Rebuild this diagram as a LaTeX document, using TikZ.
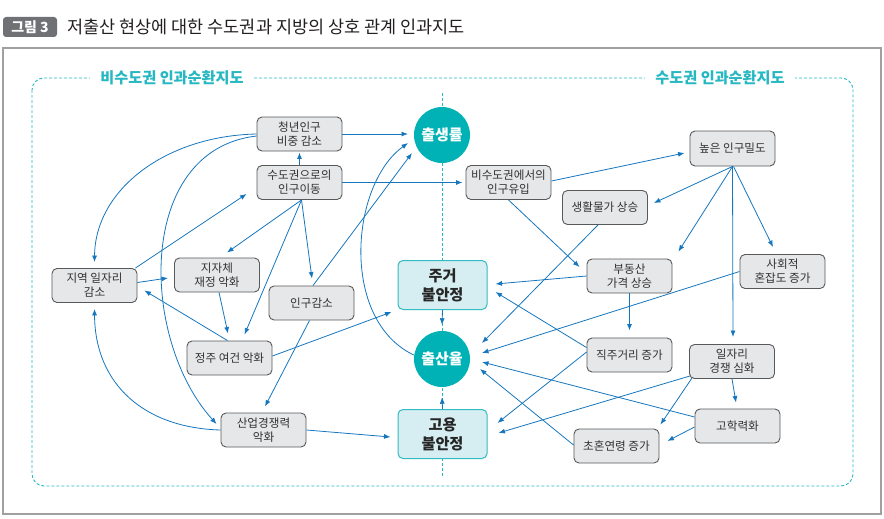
\documentclass[tikz,border=0pt]{standalone}
\usepackage{fontspec}
\setmainfont{Noto Sans CJK KR}
\usetikzlibrary{calc,arrows.meta}
\definecolor{arr}{RGB}{21,118,190}
\definecolor{tealfill}{RGB}{0,178,181}
\definecolor{teallab}{RGB}{38,184,194}
\definecolor{tealbox}{RGB}{214,238,241}
\definecolor{tealedge}{RGB}{49,187,194}
\definecolor{boxfill}{RGB}{230,231,232}
\definecolor{boxedge}{RGB}{88,89,91}
\definecolor{txt}{RGB}{50,50,50}
\definecolor{framegray}{RGB}{160,160,162}
\definecolor{taggray}{RGB}{112,113,116}
\definecolor{titletxt}{RGB}{35,31,32}
\begin{document}
\begin{tikzpicture}[x=1pt,y=-1pt,
 box/.style={draw=boxedge,fill=boxfill,line width=0.9pt,rounded corners=5pt,minimum width=85pt,minimum height=34pt,inner sep=0pt,align=center,font=\fontsize{11.6}{14}\selectfont,text=txt},
 keybox/.style={draw=tealedge,fill=tealbox,line width=1pt,rounded corners=5pt,minimum width=89pt,minimum height=49pt,inner sep=0pt,align=center,font=\fontsize{15.2}{19}\selectfont\bfseries,text=black!85},
 circ/.style={circle,fill=tealfill,minimum size=56pt,inner sep=0pt,font=\fontsize{15}{16}\selectfont\bfseries,text=white},
 link/.style={draw=arr,line width=0.8pt,-{Latex[length=6.5pt,width=5pt]}},
 tealdash/.style={draw=teallab,line width=0.9pt,dash pattern=on 3pt off 2pt},
 region/.style={fill=white,inner xsep=10pt,inner ysep=2pt,text=teallab,font=\fontsize{15.2}{17}\selectfont\bfseries}
]
\useasboundingbox (0,0) rectangle (884,519);
% outer frame
\draw[framegray,line width=1.3pt] (3,48) rectangle (881,514);
% title
\node[fill=taggray,rounded corners=3pt,text=white,minimum width=54pt,minimum height=20pt,inner sep=0pt,font=\fontsize{14}{15}\selectfont\bfseries] (tag) at (30,27) {그림 3};
\node[anchor=west,inner sep=0pt,text=titletxt,font=\fontsize{17.5}{19}\selectfont] (title) at (67,27) {저출산 현상에 대한 수도권과 지방의 상호 관계 인과지도};
% dashed region
\draw[tealdash,rounded corners=12pt] (32,78) rectangle (853,486);
\coordinate (ctop) at (442,93);
\coordinate (cbot) at (442,476);
\draw[tealdash] (ctop) -- (cbot);
\node[region] (lab1) at (172,78) {비수도권 인과순환지도};
\node[region] (lab2) at (720,78) {수도권 인과순환지도};
% nodes left
\node[box] (yp) at (299.5,134) {청년인구\\비중 감소};
\node[box] (mig) at (299.5,182.5) {수도권으로의\\인구이동};
\node[box] (job) at (94.5,285.5) {지역 일자리\\감소};
\node[box] (fin) at (217,275) {지자체\\재정 악화};
\node[box] (pop) at (311.5,303) {인구감소};
\node[box] (liv) at (229.5,358) {정주 여건 악화};
\node[box] (ind) at (263.5,430) {산업경쟁력\\악화};
% center
\node[circ] (birth) at (442,135) {출생률};
\node[keybox] (house) at (442.5,285) {주거\\불안정};
\node[circ] (fert) at (442,359) {출산율};
\node[keybox] (emp) at (442.5,434) {고용\\불안정};
% nodes right
\node[box] (inflow) at (508.5,182.5) {비수도권에서의\\인구유입};
\node[box,minimum height=35pt] (dens) at (732.5,148.5) {높은 인구밀도};
\node[box] (price) at (605,207.5) {생활물가 상승};
\node[box] (estate) at (629.5,276) {부동산\\가격 상승};
\node[box] (cong) at (782.5,271.5) {사회적\\혼잡도 증가};
\node[box] (comm) at (629.5,355) {직주거리 증가};
\node[box] (comp) at (732,361.5) {일자리\\경쟁 심화};
\node[box] (edu) at (737.5,426) {고학력화};
\node[box] (marr) at (616.5,446) {초혼연령 증가};
% connectors left
\draw[link] (yp.east) -- ($(birth.center)+(-34,-1)$);
\draw[link] (mig.east) -- ($(inflow.west)+(-3,0)$);
\draw[link] (mig.north) -- ($(yp.south)+(0,1)$);
\draw[link] (yp.west) .. controls (165,136) and (95,190) .. ($(job.north)+(0,-6)$);
\draw[link] ($(yp.west)+(0,2)$) .. controls (135,150) and (140,340) .. ($(ind.west)+(-4,-6)$);
\draw[link] ($(job.north east)+(-2,0)$) -- ($(mig.south west)+(-10,-6)$);
\draw[link] ($(job.east)+(0,-3)$) -- ($(fin.west)+(-6,3)$);
\draw[link] ($(liv.north)+(-2,0)$) -- ($(job.east)+(7,5)$);
\draw[link] ($(mig.south)+(2,0)$) -- ($(fin.north)+(10,-5)$);
\draw[link] ($(mig.south)+(2,0)$) -- ($(liv.north)+(15,-6)$);
\draw[link] ($(mig.south)+(2,0)$) -- ($(pop.north)+(0.5,-7)$);
\draw[link] ($(fin.south)+(2,0)$) -- ($(liv.north)+(-1.5,-7)$);
\draw[link] ($(pop.south)+(-2,0)$) -- ($(ind.north)+(1.5,-6)$);
\draw[link] ($(pop.north)+(1.5,0)$) -- ($(birth.center)+(-30,18)$);
\draw[link] ($(fert.west)+(0,-4)$) .. controls (340,320) and (350,185) .. ($(birth.center)+(-34,8)$);
\draw[link] ($(liv.east)+(0,-2)$) -- ($(house.south west)+(-6,2)$);
\draw[link] (ind.east) -- ($(emp.west)+(-7,3)$);
\draw[link] (ind.west) .. controls (145,428) and (95,385) .. ($(job.south)+(0,6)$);
% center
\draw[link] (house.south) -- ($(fert.north)+(0,-6)$);
\draw[link] (emp.north) -- ($(fert.south)+(0,10)$);
% connectors right
\draw[link] ($(inflow.east)+(0,-1.5)$) -- ($(dens.west)+(-5,4.5)$);
\draw[link] (dens.south) -- ($(price.east)+(6,-4.5)$);
\draw[link] (dens.south) -- ($(estate.north east)+(6,-7)$);
\draw[link] (dens.south) -- ($(comp.north)+(1,-7)$);
\draw[link] ($(dens.south)+(1,0)$) -- ($(cong.north)+(-9.5,-7)$);
\draw[link] (inflow.south) -- ($(estate.west)+(-7,-9)$);
\draw[link] ($(price.south)+(-7,0)$) -- ($(fert.center)+(40,-16)$);
\draw[link] (estate.west) -- ($(house.east)+(8,-1)$);
\draw[link] ($(comm.north west)+(0,10)$) -- ($(house.east)+(8,7)$);
\draw[link] (estate.south) -- ($(comm.north)+(0,-7)$);
\draw[link] (cong.west) -- ($(fert.center)+(40,-6)$);
\draw[link] ($(edu.west)+(0,-9)$) -- ($(fert.center)+(40,3)$);
\draw[link] ($(marr.west)+(0,-1)$) -- ($(fert.center)+(38,10)$);
\draw[link] ($(comm.west)+(0,-3)$) -- ($(emp.east)+(10,-11)$);
\draw[link] ($(comp.south west)+(1,-3)$) -- ($(emp.east)+(11,-1)$);
\draw[link] ($(comp.south west)+(3,-1)$) -- ($(marr.north east)+(1,-4)$);
\draw[link] (comp.south) -- ($(edu.north)+(-1.5,-6)$);
\draw[link] ($(edu.west)+(0,1)$) -- ($(marr.east)+(8,-5)$);
\end{tikzpicture}
\end{document}
